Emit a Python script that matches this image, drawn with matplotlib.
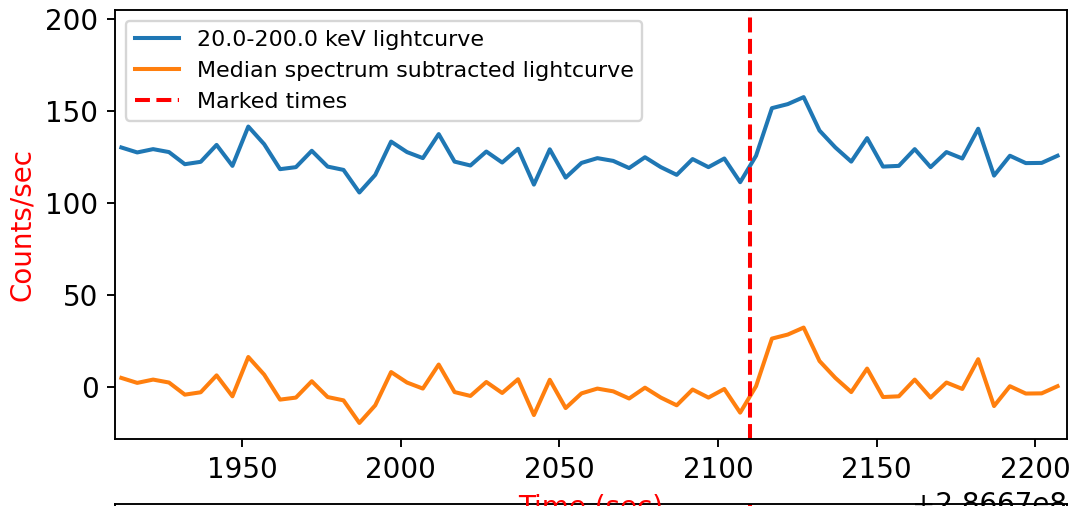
import numpy as np
import matplotlib as mpl
mpl.use("Agg")
import matplotlib.pyplot as plt
from matplotlib.ticker import ScalarFormatter

# time bins (sec), offset from 2.8667e8
t_offset = 2.8667e8
t_start = 1912
t_step = 5

# 20-200 keV lightcurve (counts/sec)
lc_counts = [130.2, 127.5, 129.3, 127.7, 121.1, 122.4, 131.6, 120.2, 141.6, 132.0,
             118.4, 119.5, 128.4, 119.8, 118.0, 105.7, 115.3, 133.4, 127.7, 124.4,
             137.5, 122.5, 120.4, 128.0, 122.0, 129.5, 110.0, 129.2, 113.8, 121.8,
             124.4, 122.9, 119.0, 124.9, 119.5, 115.3, 123.9, 119.5, 124.2, 111.3,
             125.7, 151.6, 153.8, 157.6, 139.4, 130.2, 122.5, 135.3, 119.8, 120.2,
             129.3, 119.5, 127.7, 124.2, 140.4, 114.9, 125.7, 121.7, 121.8, 125.7]

# median spectrum subtracted lightcurve
sub_counts = [4.8, 2.1, 3.9, 2.3, -4.3, -3.0, 6.2, -5.2, 16.2, 6.6,
              -7.0, -5.9, 3.0, -5.6, -7.4, -19.7, -10.1, 8.0, 2.3, -1.0,
              12.1, -2.9, -5.0, 2.6, -3.4, 4.1, -15.4, 3.8, -11.6, -3.6,
              -1.0, -2.5, -6.4, -0.5, -5.9, -10.1, -1.5, -5.9, -1.2, -14.1,
              0.3, 26.2, 28.4, 32.2, 14.0, 4.8, -2.9, 9.9, -5.6, -5.2,
              3.9, -5.9, 2.3, -1.2, 15.0, -10.5, 0.3, -3.7, -3.6, 0.3]

marked_times = [2110]

times = t_offset + t_start + t_step * np.arange(len(lc_counts))

plt.rcParams['xtick.labelsize'] = 11.7
plt.rcParams['ytick.labelsize'] = 11.7
plt.rcParams['axes.labelsize'] = 11.7

dpi = 171
fig = plt.figure(figsize=(1071 / dpi, 506 / dpi), dpi=dpi)

# main panel
ax = fig.add_axes([0.1074, 0.1318, 0.8889, 0.8484], zorder=2)
ax.plot(times, lc_counts, color='tab:blue', lw=1.7, label='20.0-200.0 keV lightcurve')
ax.plot(times, sub_counts, color='tab:orange', lw=1.7, label='Median spectrum subtracted lightcurve')
for i, mt in enumerate(marked_times):
    ax.axvline(t_offset + mt, color='red', ls='--', lw=1.7,
               label='Marked times' if i == 0 else None)
ax.set_xlim(t_offset + 1910, t_offset + 2210)
ax.set_ylim(-28.6, 205)
ax.set_yticks([0, 50, 100, 150, 200])
ax.xaxis.set_major_formatter(ScalarFormatter(useOffset=t_offset))
ax.xaxis.get_offset_text().set_fontsize(11.7)
ax.set_xlabel('Time (sec)', color='red')
ax.set_ylabel('Counts/sec', color='red')
ax.legend(loc='upper left', fontsize=9.3)

# next panel below (only its top edge shows)
ax2 = fig.add_axes([0.1074, -0.5, 0.8889, 0.504], zorder=1)
for mt in marked_times:
    ax2.axvline(t_offset + mt, color='red', ls='--', lw=1.7)
ax2.set_xlim(t_offset + 1910, t_offset + 2210)
ax2.set_xticks([])
ax2.set_yticks([])

fig.savefig('out.png', dpi=dpi)
